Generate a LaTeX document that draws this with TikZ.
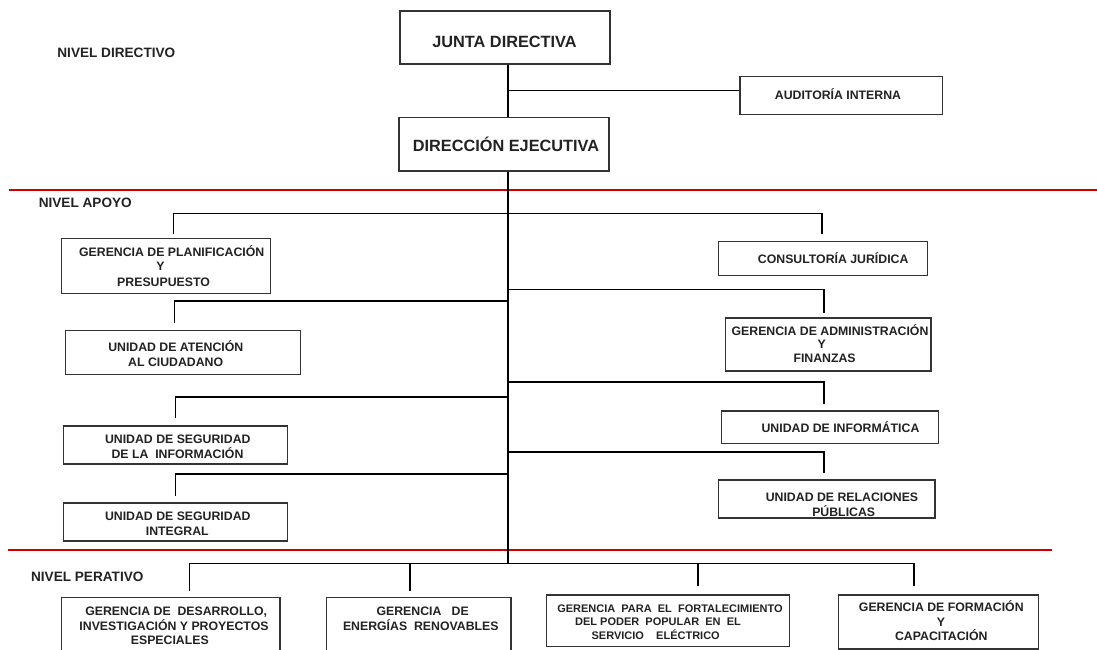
\documentclass[tikz,border=0pt]{standalone}
\usepackage{fontspec}
\setmainfont{Liberation Sans}
\usetikzlibrary{fit}
\definecolor{sepred}{RGB}{204,0,0}
\definecolor{ink}{RGB}{34,34,34}
\definecolor{boxgray}{RGB}{51,51,51}
\begin{document}
\begin{tikzpicture}[x=1pt,y=-1pt,
  box/.style={draw=boxgray, line width=1.2pt, inner sep=0pt},
  tx/.style={anchor=base, inner sep=0pt, text=ink, font=\bfseries\fontsize{12.3}{14}\selectfont},
  txs/.style={tx, font=\bfseries\fontsize{11}{13}\selectfont},
  big/.style={tx, font=\bfseries\fontsize{16.3}{19}\selectfont},
  lvl/.style={anchor=base west, inner sep=0pt, text=ink, font=\bfseries\fontsize{13.6}{16}\selectfont},
  conn/.style={line width=1.6pt},
  thin/.style={line width=1.2pt},
  trunk/.style={line width=2pt},
  sep/.style={draw=sepred, line width=2pt}]
\useasboundingbox (0,0) rectangle (1097,650);

% separators
\coordinate (s1a) at (8.8,190);  \coordinate (s1b) at (1097,190);
\coordinate (s2a) at (7.7,550);  \coordinate (s2b) at (1052,550);
\draw[sep] (s1a) -- (s1b);
\draw[sep] (s2a) -- (s2b);

% level labels
\node[lvl] (lv1) at (57.2,57.3) {NIVEL DIRECTIVO};
\node[lvl] (lv2) at (38.6,207.3) {NIVEL APOYO};
\node[lvl] (lv3) at (30.9,581.7) {NIVEL PERATIVO};

% boxes
\node[box, fit={(400,11) (610,64)}] (jd) {};
\node[box, fit={(399,117.7) (609,171)}] (de) {};
\node[box, fit={(740,76.7) (942.5,114.3)}] (aud) {};
\node[box, fit={(61.7,238.3) (270.8,293.3)}] (planif) {};
\node[box, fit={(65.6,330.7) (300.6,374.5)}] (aten) {};
\node[box, fit={(63.5,426) (287.6,464)}] (seginfo) {};
\node[box, fit={(63.5,503) (287.6,541)}] (segint) {};
\node[box, fit={(718.6,241.7) (927.3,275.3)}] (consult) {};
\node[box, fit={(725.8,318) (931,371)}] (admin) {};
\node[box, fit={(721.6,411) (938.7,443.7)}] (inform) {};
\node[box, fit={(718.2,480) (934.9,518)}] (relac) {};
\node[box, fit={(61.7,597.3) (280,660)}] (b1) {};
\node[box, fit={(326.7,597.7) (511,660)}] (b2) {};
\node[box, fit={(546.7,595) (789.3,646.7)}] (b3) {};
\node[box, fit={(838.3,595) (1038.3,649)}] (b4) {};

% texts
\node[big] (jd-t) at (504.5,47.3) {JUNTA DIRECTIVA};
\node[big] (de-t) at (506,151.7) {DIRECCIÓN EJECUTIVA};
\node[tx] (aud-t) at (838,100) {AUDITORÍA INTERNA};
\node[tx] (planif-1) at (171.7,256) {GERENCIA DE PLANIFICACIÓN};
\node[tx] (planif-2) at (160.5,270.7) {Y};
\node[tx] (planif-3) at (163.6,286) {PRESUPUESTO};
\node[tx] (aten-1) at (175.8,351.7) {UNIDAD DE ATENCIÓN};
\node[tx] (aten-2) at (175.7,366.7) {AL CIUDADANO};
\node[tx] (seginfo-1) at (177.8,443.3) {UNIDAD DE SEGURIDAD};
\node[tx] (seginfo-2) at (177.5,458.3) {DE LA\ \ INFORMACIÓN};
\node[tx] (segint-1) at (177.8,520) {UNIDAD DE SEGURIDAD};
\node[tx] (segint-2) at (177.3,535) {INTEGRAL};
\node[tx] (consult-t) at (833.2,263.3) {CONSULTORÍA JURÍDICA};
\node[tx] (admin-1) at (830,335) {GERENCIA DE ADMINISTRACIÓN};
\node[tx] (admin-2) at (821.8,348.3) {Y};
\node[tx] (admin-3) at (824.6,362.7) {FINANZAS};
\node[tx] (inform-t) at (840.5,432.3) {UNIDAD DE INFORMÁTICA};
\node[tx] (relac-1) at (842,501.7) {UNIDAD DE RELACIONES};
\node[tx] (relac-2) at (843.7,516) {PÚBLICAS};
\node[tx] (b1-1) at (176.2,615) {GERENCIA DE\ \ DESARROLLO,};
\node[tx] (b1-2) at (174,630) {INVESTIGACIÓN Y PROYECTOS};
\node[tx] (b1-3) at (169.8,644.3) {ESPECIALES};
\node[tx] (b2-1) at (422.7,615) {GERENCIA\ \ \ DE};
\node[tx] (b2-2) at (420.8,630) {ENERGÍAS\ \ RENOVABLES};
\node[txs] (b3-1) at (670,612.3) {GERENCIA\ \ PARA\ \ EL\ \ FORTALECIMIENTO};
\node[txs] (b3-2) at (658,625) {DEL PODER\ \ POPULAR\ \ EN\ \ EL};
\node[txs] (b3-3) at (655.7,639) {SERVICIO\ \ \ \ ELÉCTRICO};
\node[tx] (b4-1) at (941.3,611.7) {GERENCIA DE FORMACIÓN};
\node[tx] (b4-2) at (941,626) {Y};
\node[tx] (b4-3) at (941.3,640.7) {CAPACITACIÓN};

% trunk points
\coordinate (tA) at (508,90.7);
\coordinate (tEnd) at (508,563.5);
\coordinate (br1) at (508,213.3);
\coordinate (tr2) at (508,301);
\coordinate (tr3) at (508,289.3);
\coordinate (tr4) at (508,396.7);
\coordinate (tr5) at (508,381.7);
\coordinate (tr6) at (508,474);
\coordinate (tr7) at (508,451.7);

% drop ends
\coordinate (dPlanif) at (173.6,234);
\coordinate (dConsult) at (821.8,234.3);
\coordinate (dAten) at (174.3,323.3);
\coordinate (dAdmin) at (823.7,312.7);
\coordinate (dSegInfo) at (175.4,418.3);
\coordinate (dInform) at (823.7,404.3);
\coordinate (dSegInt) at (175.4,495.7);
\coordinate (dRelac) at (823.7,473.3);
\coordinate (dB1) at (189.8,590.7);
\coordinate (dB2) at (410,590.7);
\coordinate (dB3) at (698,586);
\coordinate (dB4) at (914,586);

% connectors
\draw[trunk] (jd.south -| tA) -- (de.north -| tA);
\draw[trunk] (de.south -| tA) -- (tEnd);
\draw[conn] (tA) -- (aud.west |- tA);
\draw[conn] (dPlanif) -- (dPlanif |- br1) -- (dConsult |- br1) -- (dConsult);
\draw[conn] (tr2) -| (dAten);
\draw[conn] (tr3) -| (dAdmin);
\draw[conn] (tr4) -| (dSegInfo);
\draw[conn] (tr5) -| (dInform);
\draw[conn] (tr6) -| (dSegInt);
\draw[conn] (tr7) -| (dRelac);
\draw[thin] (dB1) -- (dB1 |- tEnd) -- (dB4 |- tEnd) -- (dB4);
\draw[conn] (dB2 |- tEnd) -- (dB2);
\draw[conn] (dB3 |- tEnd) -- (dB3);
\end{tikzpicture}
\end{document}
